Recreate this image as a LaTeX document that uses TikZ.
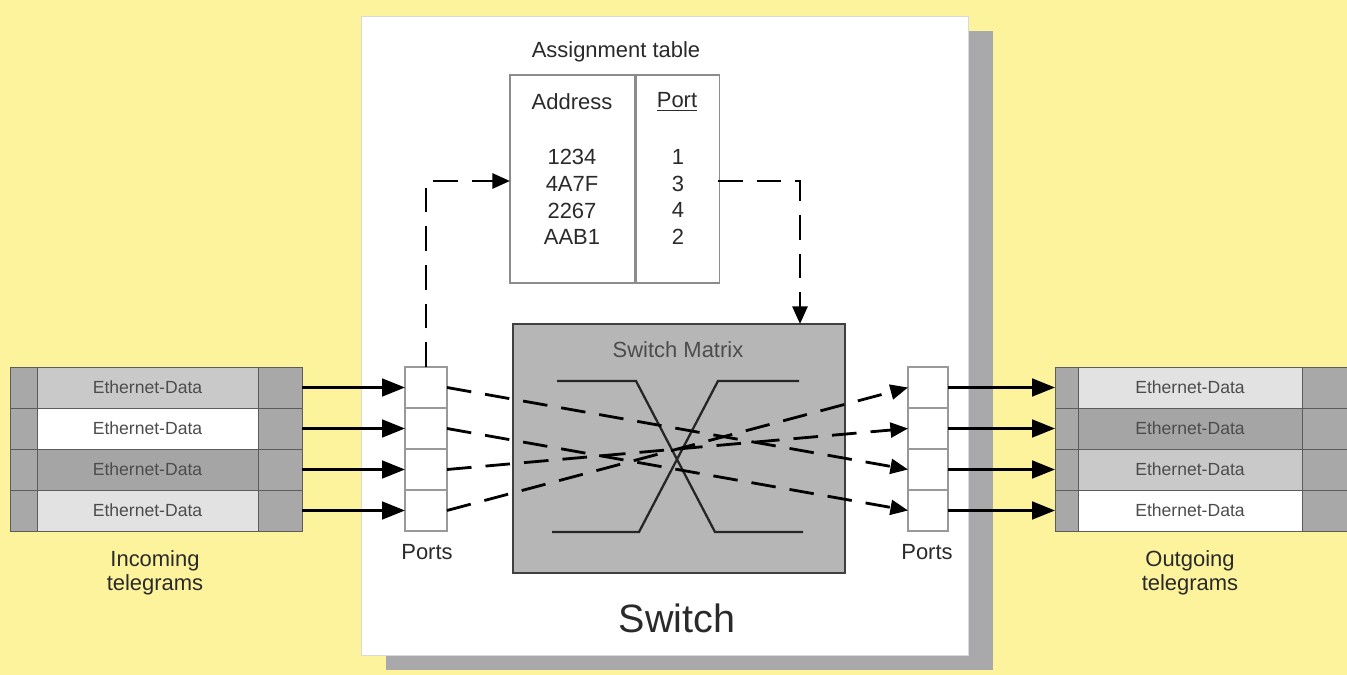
\documentclass[tikz,border=0pt]{standalone}
\usepackage{fontspec}
\setmainfont{Liberation Sans}
\usetikzlibrary{arrows.meta,positioning,shadows}
\definecolor{BgYellow}{HTML}{FCF39C}
\definecolor{ShadowGray}{HTML}{A9A9AB}
\definecolor{MatrixGray}{HTML}{B6B6B6}
\definecolor{CapGray}{HTML}{A8A8A8}
\definecolor{RowLight}{HTML}{C9C9C9}
\definecolor{RowDark}{HTML}{A5A5A5}
\definecolor{RowPale}{HTML}{E2E2E2}
\definecolor{EdgeGray}{HTML}{5C5C5C}
\definecolor{TextGray}{HTML}{2A2A2A}
\tikzset{
  tgbody/.style={
    rectangle, draw=EdgeGray, line width=0.5pt, inner sep=0pt, outer sep=0pt,
    minimum height=0.82cm, font=\fontsize{10}{11}\selectfont, text=black!70
  },
  tgcap/.style={rectangle, draw=EdgeGray, line width=0.5pt, fill=CapGray, inner sep=0pt, outer sep=0pt, minimum height=0.82cm},
  portcell/.style={rectangle, draw=black!40, line width=0.6pt, fill=white, inner sep=0pt, outer sep=0pt, minimum height=0.82cm},
  tblcol/.style={rectangle, draw=black!45, line width=0.6pt, inner sep=0pt, minimum height=4.16cm},
  txtlbl/.style={font=\fontsize{12.5}{13.6}\selectfont, align=center, text=TextGray},
  dataarrow/.style={-{Triangle[length=13pt,width=10pt]}, line width=1.6pt},
  routearrow/.style={-{Triangle[length=10pt,width=8.5pt]}, line width=1.6pt, dash pattern=on 14pt off 8pt},
}

\begin{document}
\begin{tikzpicture}[x=0.02cm, y=-0.02cm]
    \useasboundingbox (0,0) rectangle (1347,675);
    \fill[BgYellow] (0,0) rectangle (1347,675);

    % switch housing
    \node[rectangle, draw=black!15, fill=white, minimum width=12.14cm, minimum height=12.78cm,
      drop shadow={shadow xshift=0.5cm, shadow yshift=-0.3cm, fill=ShadowGray, opacity=1}]
      (switch) at (664.5,335.5) {};
    \node[txtlbl, font=\fontsize{22.5}{24}\selectfont] (switchlbl) at (677,618) {Switch};

    % assignment table
    \node[txtlbl] (tbltitle) at (616,52) {Assignment table};
    \node[tblcol, minimum width=2.5cm] (addrcol) at (572.5,179) {};
    \node[tblcol, minimum width=1.66cm, right=0pt of addrcol] (portcol) {};
    \node[txtlbl] (addrhead) at (572,102) {Address};
    \node[txtlbl] (porthead) at (677,102) {\underline{Port}};
    \node[txtlbl, font=\fontsize{12.5}{15.3}\selectfont] (addrvals) at (572,197) {1234\\4A7F\\2267\\AAB1};
    \node[txtlbl, font=\fontsize{12.5}{15.3}\selectfont] (portvals) at (678,197) {1\\3\\4\\2};
    \coordinate (tblin) at (510,181);
    \coordinate (tblout) at (718,181);

    % switch matrix
    \node[rectangle, draw=black!75, line width=1pt, fill=MatrixGray, minimum width=6.64cm, minimum height=4.98cm] (matrix) at (679,448.5) {};
    \node[txtlbl, text=black!70] (matrixlbl) at (678,350) {Switch Matrix};
    \coordinate (matrixin) at (800,324);
    \draw[black!85, line width=1.3pt] (557,381) -- (636,381) -- (715,532) -- (803,532);
    \draw[black!85, line width=1.3pt] (799,381) -- (718,381) -- (639,532) -- (552,532);

    % ports
    \node[portcell, minimum width=0.84cm] (lp1) at (426,387.5) {};
    \node[portcell, minimum width=0.84cm] (lp2) at (426,428.5) {};
    \node[portcell, minimum width=0.84cm] (lp3) at (426,469.5) {};
    \node[portcell, minimum width=0.84cm] (lp4) at (426,510.5) {};
    \node[portcell, minimum width=0.8cm] (rp1) at (928,387.5) {};
    \node[portcell, minimum width=0.8cm] (rp2) at (928,428.5) {};
    \node[portcell, minimum width=0.8cm] (rp3) at (928,469.5) {};
    \node[portcell, minimum width=0.8cm] (rp4) at (928,510.5) {};
    \node[txtlbl] (lportlbl) at (427,552) {Ports};
    \node[txtlbl] (rportlbl) at (927,552) {Ports};

    % incoming telegrams
    \node[tgbody, fill=RowLight, minimum width=4.42cm] (in1) at (147.5,387.5) {Ethernet-Data};
    \node[tgbody, fill=white, minimum width=4.42cm] (in2) at (147.5,428.5) {Ethernet-Data};
    \node[tgbody, fill=RowDark, minimum width=4.42cm] (in3) at (147.5,469.5) {Ethernet-Data};
    \node[tgbody, fill=RowPale, minimum width=4.42cm] (in4) at (147.5,510.5) {Ethernet-Data};
    \node[tgcap, minimum width=0.54cm, left=0pt of in1] (in1a) {};
    \node[tgcap, minimum width=0.54cm, left=0pt of in2] (in2a) {};
    \node[tgcap, minimum width=0.54cm, left=0pt of in3] (in3a) {};
    \node[tgcap, minimum width=0.54cm, left=0pt of in4] (in4a) {};
    \node[tgcap, minimum width=0.88cm, right=0pt of in1] (in1b) {};
    \node[tgcap, minimum width=0.88cm, right=0pt of in2] (in2b) {};
    \node[tgcap, minimum width=0.88cm, right=0pt of in3] (in3b) {};
    \node[tgcap, minimum width=0.88cm, right=0pt of in4] (in4b) {};
    \node[txtlbl] (inlbl) at (155,573) {Incoming\\telegrams};

    % outgoing telegrams
    \node[tgbody, fill=RowPale, minimum width=4.48cm] (out1) at (1190,387.5) {Ethernet-Data};
    \node[tgbody, fill=RowDark, minimum width=4.48cm] (out2) at (1190,428.5) {Ethernet-Data};
    \node[tgbody, fill=RowLight, minimum width=4.48cm] (out3) at (1190,469.5) {Ethernet-Data};
    \node[tgbody, fill=white, minimum width=4.48cm] (out4) at (1190,510.5) {Ethernet-Data};
    \node[tgcap, minimum width=0.46cm, left=0pt of out1] (out1a) {};
    \node[tgcap, minimum width=0.46cm, left=0pt of out2] (out2a) {};
    \node[tgcap, minimum width=0.46cm, left=0pt of out3] (out3a) {};
    \node[tgcap, minimum width=0.46cm, left=0pt of out4] (out4a) {};
    \node[tgcap, minimum width=0.92cm, right=0pt of out1] (out1b) {};
    \node[tgcap, minimum width=0.92cm, right=0pt of out2] (out2b) {};
    \node[tgcap, minimum width=0.92cm, right=0pt of out3] (out3b) {};
    \node[tgcap, minimum width=0.92cm, right=0pt of out4] (out4b) {};
    \node[txtlbl] (outlbl) at (1190,573) {Outgoing\\telegrams};

    % telegrams in and out
    \draw[dataarrow] (in1b) -- (lp1);
    \draw[dataarrow] (in2b) -- (lp2);
    \draw[dataarrow] (in3b) -- (lp3);
    \draw[dataarrow] (in4b) -- (lp4);
    \draw[dataarrow] (rp1) -- (out1a);
    \draw[dataarrow] (rp2) -- (out2a);
    \draw[dataarrow] (rp3) -- (out3a);
    \draw[dataarrow] (rp4) -- (out4a);

    % lookup and routing
    \draw[routearrow] (lp1.north) |- (tblin);
    \draw[routearrow] (tblout) -| (matrixin);
    \draw[routearrow] (lp1.east) -- (rp3.west);
    \draw[routearrow] (lp2.east) -- (rp4.west);
    \draw[routearrow] (lp3.east) -- (rp2.west);
    \draw[routearrow] (lp4.east) -- (rp1.west);
\end{tikzpicture}
\end{document}
